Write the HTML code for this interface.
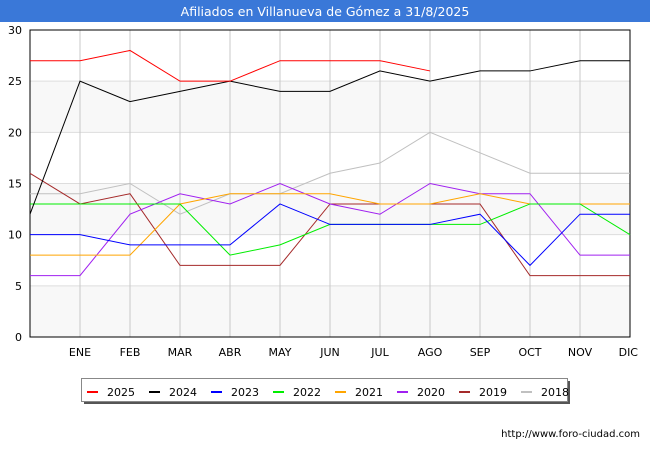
<!DOCTYPE html>
<html><head><meta charset="utf-8"><style>
body{margin:0;width:650px;height:450px;background:#fff;font-family:"DejaVu Sans","Liberation Sans",sans-serif;overflow:hidden}
</style></head><body>
<svg id="chart" width="650" height="450" xmlns="http://www.w3.org/2000/svg">
<rect x="0" y="0" width="650" height="22" fill="#3a78d8"/>
<text x="325" y="16" text-anchor="middle" font-size="12.5" fill="#fff">Afiliados en Villanueva de Gómez a 31/8/2025</text>
<g id="plot"></g>
<text x="640" y="437" text-anchor="end" font-size="10" fill="#000">http://www.foro-ciudad.com</text>
</svg>
<script>
const months=["","ENE","FEB","MAR","ABR","MAY","JUN","JUL","AGO","SEP","OCT","NOV","DIC"];
const yTicks=[0,5,10,15,20,25,30];
const seriesNames=["2025","2024","2023","2022","2021","2020","2019","2018"];
const seriesColors=["#ff0000","#000000","#0000ff","#00ee00","#ffa500","#a020f0","#a52a2a","#c0c0c0"];
const s2025=[27,27,28,25,25,27,27,27,26];
const s2024=[12,25,23,24,25,24,24,26,25,26,26,27,27];
const s2023=[10,10,9,9,9,13,11,11,11,12,7,12,12];
const s2022=[13,13,13,13,8,9,11,11,11,11,13,13,10];
const s2021=[8,8,8,13,14,14,14,13,13,14,13,13,13];
const s2020=[6,6,12,14,13,15,13,12,15,14,14,8,8];
const s2019=[16,13,14,7,7,7,13,13,13,13,6,6,6];
const s2018=[14,14,15,12,14,14,16,17,20,18,16,16,16];
const allSeries=[s2025,s2024,s2023,s2022,s2021,s2020,s2019,s2018];

const L=30,R=630,T=30,B=337,NS="http://www.w3.org/2000/svg";
const xs=i=>L+i*(R-L)/(months.length-1);
const ys=v=>B-v*(B-T)/30;
const g=document.getElementById('plot');
function mk(t,a){const e=document.createElementNS(NS,t);for(const k in a)e.setAttribute(k,a[k]);g.appendChild(e);return e;}
// bands
for(let k=0;k<yTicks.length-1;k+=2){
 const b=mk('rect',{x:L,y:ys(yTicks[k+1]),width:R-L,height:ys(yTicks[k])-ys(yTicks[k+1]),fill:'#f8f8f8'});
 
 
}
yTicks.forEach(v=>{
 const l=mk('line',{x1:L,x2:R,y1:ys(v),y2:ys(v),stroke:'#dddddd','stroke-width':1});
 
 
 const t=mk('text',{x:L-8,y:ys(v)+4,'text-anchor':'end','font-size':11});
 t.textContent=v;
 
 
});
months.forEach((m,i)=>{
 if(i===0)return;
 const l=mk('line',{x1:xs(i),x2:xs(i),y1:T,y2:B,stroke:'#c8c8c8','stroke-width':1});
 
 
 const t=mk('text',{x:xs(i),y:B+19,'text-anchor':i===12?'end':'middle','font-size':11});
 if(i===12)t.setAttribute('x',xs(i)+8);
 t.textContent=m;
 
 
});
const frame=mk('rect',{x:L,y:T,width:R-L,height:B-T,fill:'none',stroke:'#000','stroke-width':1});


for(let s=allSeries.length-1;s>=0;s--){
 const pts=allSeries[s].map((v,i)=>xs(i)+','+ys(v)).join(' ');
 const p=mk('polyline',{points:pts,fill:'none',stroke:seriesColors[s],'stroke-width':1});
 
 
}
// legend
const sh=mk('rect',{x:84,y:381,width:486,height:23,fill:'#555'});


const lb=mk('rect',{x:81.5,y:378.5,width:486,height:23,fill:'#fff',stroke:'#888'});


seriesNames.forEach((n,i)=>{
 const x0=87+i*62;
 const sw=mk('line',{x1:x0,x2:x0+11,y1:392,y2:392,stroke:seriesColors[i],'stroke-width':2});
 
 
 const t=mk('text',{x:x0+20,y:396,'font-size':11});
 t.textContent=n;
 
 
});
</script>
</body></html>
